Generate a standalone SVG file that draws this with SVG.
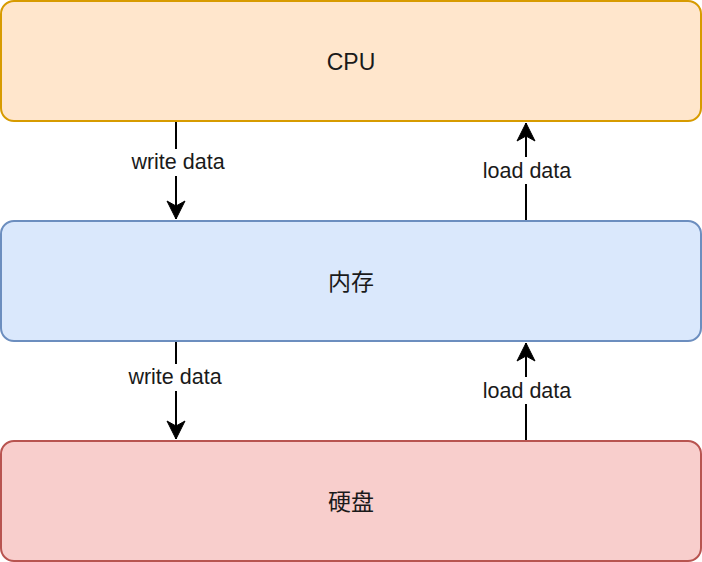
<svg xmlns="http://www.w3.org/2000/svg" width="702" height="562" viewBox="0 0 702 562">
  <style>
    .box { stroke-width: 2; }
    .cpu { fill: #ffe6cc; stroke: #d79b00; }
    .mem { fill: #dae8fc; stroke: #6c8ebf; }
    .disk { fill: #f8cecc; stroke: #b85450; }
    .title { font-family: "Liberation Sans", "Noto Sans CJK SC", sans-serif; font-size: 23px; fill: #1a1a1a; text-anchor: middle; dominant-baseline: central; }
    .lbl { font-family: "Liberation Sans", Arial, sans-serif; font-size: 21.5px; fill: #1a1a1a; text-anchor: middle; dominant-baseline: central; }
    .edge { stroke: #000; stroke-width: 2; fill: none; }
    .lblbg { fill: #ffffff; }
  </style>
  <defs>
    <marker id="arrow" markerUnits="userSpaceOnUse" markerWidth="24" markerHeight="24" viewBox="-21 -12 24 24" refX="0" refY="0" orient="auto">
      <path d="M0,0 L-18,-9 L-13,0 L-18,9 Z" fill="#000" stroke="#000" stroke-width="1"/>
    </marker>
  </defs>
  <rect width="702" height="562" fill="#ffffff"/>
  <g id="connectors">
    <g id="e1">
      <line class="edge" x1="176" y1="121" x2="176" y2="219" marker-end="url(#arrow)"/>
      <rect class="lblbg" x="130" y="149" width="98" height="27"/>
      <text class="lbl" x="178" y="162">write data</text>
    </g>
    <g id="e2">
      <line class="edge" x1="526" y1="221" x2="526" y2="123" marker-end="url(#arrow)"/>
      <rect class="lblbg" x="480" y="157" width="93" height="27"/>
      <text class="lbl" x="527" y="170.5">load data</text>
    </g>
    <g id="e3">
      <line class="edge" x1="176" y1="341" x2="176" y2="439" marker-end="url(#arrow)"/>
      <rect class="lblbg" x="126" y="364" width="98" height="27"/>
      <text class="lbl" x="175" y="377">write data</text>
    </g>
    <g id="e4">
      <line class="edge" x1="526" y1="441" x2="526" y2="343" marker-end="url(#arrow)"/>
      <rect class="lblbg" x="480" y="377" width="93" height="27"/>
      <text class="lbl" x="527" y="390.5">load data</text>
    </g>
  </g>
  <g id="cpu">
    <rect class="box cpu" x="1" y="1" width="700" height="120" rx="13" ry="13"/>
    <text class="title" x="351" y="62">CPU</text>
  </g>
  <g id="memory">
    <rect class="box mem" x="1" y="221" width="700" height="120" rx="13" ry="13"/>
    <text class="title" x="351" y="282">内存</text>
  </g>
  <g id="disk">
    <rect class="box disk" x="1" y="441" width="700" height="120" rx="13" ry="13"/>
    <text class="title" x="351" y="502">硬盘</text>
  </g>
</svg>
